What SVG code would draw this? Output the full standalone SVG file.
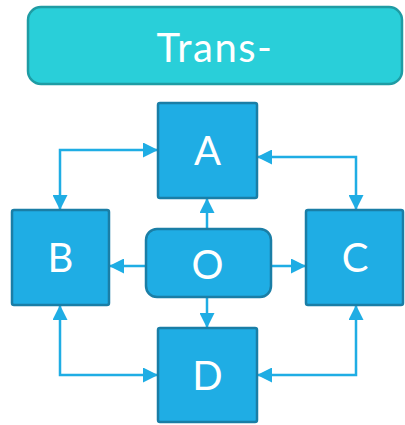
<svg xmlns="http://www.w3.org/2000/svg" width="405" height="425" viewBox="0 0 405 425">
<defs>
<marker id="ah" viewBox="0 0 15 15" refX="15" refY="7.5" markerWidth="15" markerHeight="15" markerUnits="userSpaceOnUse" orient="auto-start-reverse">
<path d="M0,0 L15,7.5 L0,15 Z" fill="#1FADE4"/>
</marker>
</defs>
<style>
.box{fill:#1FADE4;stroke:#1A7EA6;stroke-width:2.5}
.lbl{fill:#fff;font-family:"Lato","Open Sans","Liberation Sans",sans-serif;font-size:40px;text-anchor:middle}
.con{fill:none;stroke:#1FADE4;stroke-width:2.5}
</style>
<rect width="405" height="425" fill="#fff"/>
<g id="title">
<rect x="28" y="7" width="374" height="77" rx="13" fill="#29CFD9" stroke="#1F9CA4" stroke-width="2.5"/>
<text x="215" y="62" class="lbl" font-size="42" letter-spacing="1.5">Trans-</text>
</g>
<g id="connectors">
<path class="con" d="M60,210 V150 H158" marker-start="url(#ah)" marker-end="url(#ah)"/>
<path class="con" d="M257,157 H356 V210" marker-start="url(#ah)" marker-end="url(#ah)"/>
<path class="con" d="M60,305 V375 H158" marker-start="url(#ah)" marker-end="url(#ah)"/>
<path class="con" d="M356,305 V375 H257" marker-start="url(#ah)" marker-end="url(#ah)"/>
<path class="con" d="M207,229 V198" marker-end="url(#ah)"/>
<path class="con" d="M207,298 V328" marker-end="url(#ah)"/>
<path class="con" d="M145,266 H109" marker-end="url(#ah)"/>
<path class="con" d="M272,266 H306" marker-end="url(#ah)"/>
</g>
<g id="A">
<rect class="box" x="158" y="103" width="99" height="95" rx="2"/>
<text class="lbl" x="207.5" y="165">A</text>
</g>
<g id="B">
<rect class="box" x="12" y="210" width="97" height="95" rx="2"/>
<text class="lbl" x="60.5" y="272">B</text>
</g>
<g id="C">
<rect class="box" x="306" y="210" width="97" height="95" rx="2"/>
<text class="lbl" x="355" y="272">C</text>
</g>
<g id="D">
<rect class="box" x="158" y="328" width="99" height="94" rx="2"/>
<text class="lbl" x="207.5" y="390">D</text>
</g>
<g id="O">
<rect class="box" x="146" y="229" width="125" height="68" rx="11"/>
<text class="lbl" x="207.5" y="279">O</text>
</g>
</svg>
